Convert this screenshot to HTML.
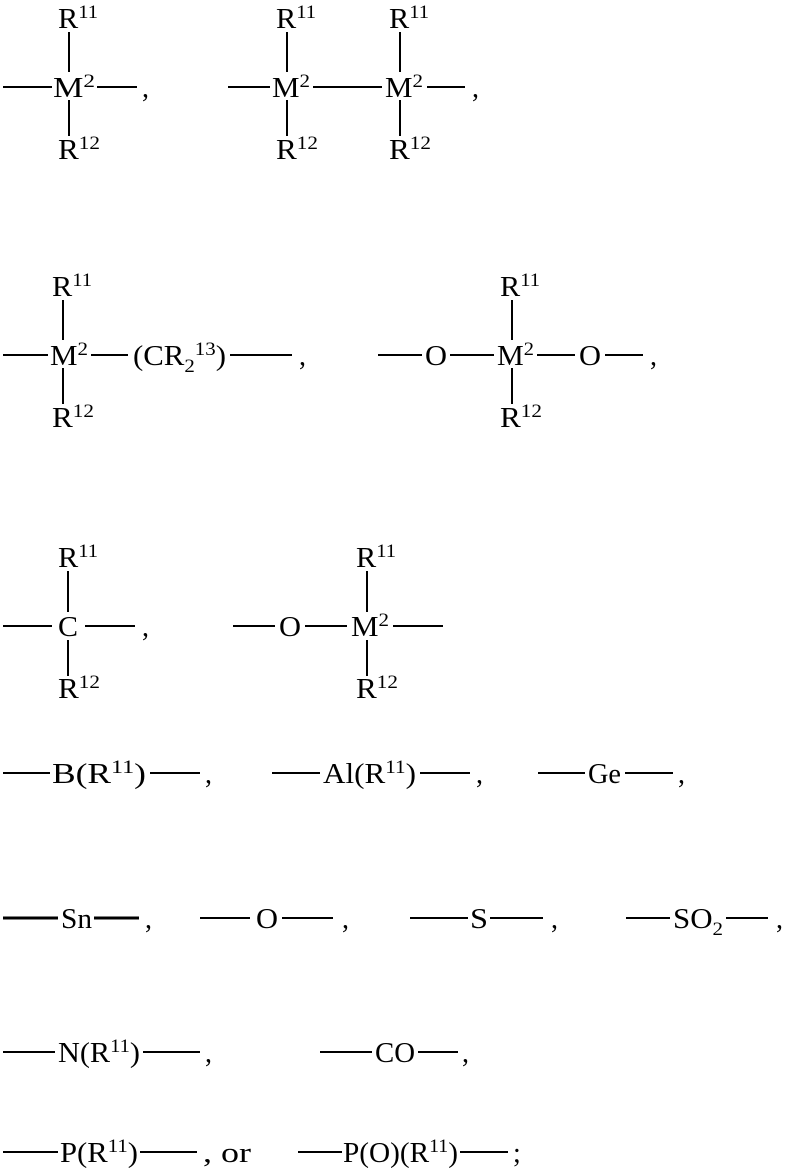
<!DOCTYPE html>
<html><head><style>body{margin:0;background:#fff}svg{display:block}text{font-family:"Liberation Serif",serif;font-size:28px;fill:#000}tspan.s{font-size:19px}</style></head><body>
<svg width="786" height="1168" viewBox="0 0 786 1168" xmlns="http://www.w3.org/2000/svg">
<g stroke="#000" stroke-width="2">
<line x1="3" y1="87" x2="52" y2="87"/><line x1="97" y1="87" x2="137" y2="87"/>
<line x1="69" y1="32" x2="69" y2="72"/><line x1="69" y1="100" x2="69" y2="136"/>
<line x1="228" y1="87" x2="270" y2="87"/><line x1="313" y1="87" x2="382" y2="87"/><line x1="427" y1="87" x2="465" y2="87"/>
<line x1="287" y1="32" x2="287" y2="72"/><line x1="287" y1="100" x2="287" y2="136"/>
<line x1="400" y1="32" x2="400" y2="72"/><line x1="400" y1="100" x2="400" y2="136"/>
<line x1="3" y1="355" x2="48" y2="355"/><line x1="91" y1="355" x2="128" y2="355"/><line x1="230" y1="355" x2="292" y2="355"/>
<line x1="63" y1="300" x2="63" y2="340"/><line x1="63" y1="368" x2="63" y2="404"/>
<line x1="378" y1="355" x2="422" y2="355"/><line x1="450" y1="355" x2="494" y2="355"/><line x1="537" y1="355" x2="575" y2="355"/><line x1="605" y1="355" x2="643" y2="355"/>
<line x1="512" y1="300" x2="512" y2="340"/><line x1="512" y1="368" x2="512" y2="404"/>
<line x1="3" y1="626" x2="52" y2="626"/><line x1="85" y1="626" x2="135" y2="626"/>
<line x1="68" y1="571" x2="68" y2="612"/><line x1="68" y1="640" x2="68" y2="676"/>
<line x1="233" y1="626" x2="275" y2="626"/><line x1="305" y1="626" x2="347" y2="626"/><line x1="393" y1="626" x2="443" y2="626"/>
<line x1="367" y1="571" x2="367" y2="612"/><line x1="367" y1="640" x2="367" y2="676"/>
<line x1="3" y1="773" x2="50" y2="773"/><line x1="150" y1="773" x2="200" y2="773"/>
<line x1="272" y1="773" x2="320" y2="773"/><line x1="420" y1="773" x2="470" y2="773"/>
<line x1="538" y1="773" x2="585" y2="773"/><line x1="625" y1="773" x2="673" y2="773"/>
<line x1="3" y1="918" x2="58" y2="918" stroke-width="3"/><line x1="94" y1="918" x2="139" y2="918" stroke-width="3"/>
<line x1="200" y1="918" x2="250" y2="918"/><line x1="282" y1="918" x2="333" y2="918"/>
<line x1="410" y1="918" x2="468" y2="918"/><line x1="490" y1="918" x2="543" y2="918"/>
<line x1="626" y1="918" x2="670" y2="918"/><line x1="726" y1="918" x2="768" y2="918"/>
<line x1="3" y1="1052" x2="55" y2="1052"/><line x1="143" y1="1052" x2="200" y2="1052"/>
<line x1="320" y1="1052" x2="372" y2="1052"/><line x1="418" y1="1052" x2="458" y2="1052"/>
<line x1="3" y1="1152" x2="58" y2="1152"/><line x1="140" y1="1152" x2="197" y2="1152"/>
<line x1="298" y1="1152" x2="342" y2="1152"/><line x1="460" y1="1152" x2="508" y2="1152"/>
</g>
<text x="58" y="28" textLength="40" lengthAdjust="spacingAndGlyphs">R<tspan class="s" dy="-10">11</tspan></text>
<text x="53" y="97" textLength="42" lengthAdjust="spacingAndGlyphs">M<tspan class="s" dy="-10">2</tspan></text>
<text x="58" y="159" textLength="42" lengthAdjust="spacingAndGlyphs">R<tspan class="s" dy="-10">12</tspan></text>
<text x="142" y="97">,</text>
<text x="276" y="28" textLength="40" lengthAdjust="spacingAndGlyphs">R<tspan class="s" dy="-10">11</tspan></text>
<text x="272" y="97" textLength="38" lengthAdjust="spacingAndGlyphs">M<tspan class="s" dy="-10">2</tspan></text>
<text x="276" y="159" textLength="42" lengthAdjust="spacingAndGlyphs">R<tspan class="s" dy="-10">12</tspan></text>
<text x="389" y="28" textLength="40" lengthAdjust="spacingAndGlyphs">R<tspan class="s" dy="-10">11</tspan></text>
<text x="385" y="97" textLength="38" lengthAdjust="spacingAndGlyphs">M<tspan class="s" dy="-10">2</tspan></text>
<text x="389" y="159" textLength="42" lengthAdjust="spacingAndGlyphs">R<tspan class="s" dy="-10">12</tspan></text>
<text x="472" y="97">,</text>
<text x="52" y="296" textLength="40" lengthAdjust="spacingAndGlyphs">R<tspan class="s" dy="-10">11</tspan></text>
<text x="50" y="365" textLength="38" lengthAdjust="spacingAndGlyphs">M<tspan class="s" dy="-10">2</tspan></text>
<text x="52" y="427" textLength="42" lengthAdjust="spacingAndGlyphs">R<tspan class="s" dy="-10">12</tspan></text>
<text x="133" y="365" textLength="93" lengthAdjust="spacingAndGlyphs">(CR<tspan class="s" dy="7">2</tspan><tspan class="s" dy="-17">13</tspan><tspan dy="10">)</tspan></text>
<text x="299" y="365">,</text>
<text x="425" y="365" textLength="22" lengthAdjust="spacingAndGlyphs">O</text>
<text x="500" y="296" textLength="40" lengthAdjust="spacingAndGlyphs">R<tspan class="s" dy="-10">11</tspan></text>
<text x="497" y="365" textLength="37" lengthAdjust="spacingAndGlyphs">M<tspan class="s" dy="-10">2</tspan></text>
<text x="500" y="427" textLength="42" lengthAdjust="spacingAndGlyphs">R<tspan class="s" dy="-10">12</tspan></text>
<text x="579" y="365" textLength="22" lengthAdjust="spacingAndGlyphs">O</text>
<text x="650" y="365">,</text>
<text x="58" y="567" textLength="40" lengthAdjust="spacingAndGlyphs">R<tspan class="s" dy="-10">11</tspan></text>
<text x="58" y="636" textLength="20" lengthAdjust="spacingAndGlyphs">C</text>
<text x="58" y="698" textLength="42" lengthAdjust="spacingAndGlyphs">R<tspan class="s" dy="-10">12</tspan></text>
<text x="142" y="636">,</text>
<text x="279" y="636" textLength="22" lengthAdjust="spacingAndGlyphs">O</text>
<text x="356" y="567" textLength="40" lengthAdjust="spacingAndGlyphs">R<tspan class="s" dy="-10">11</tspan></text>
<text x="351" y="636" textLength="38" lengthAdjust="spacingAndGlyphs">M<tspan class="s" dy="-10">2</tspan></text>
<text x="356" y="698" textLength="42" lengthAdjust="spacingAndGlyphs">R<tspan class="s" dy="-10">12</tspan></text>
<text x="52" y="783" textLength="94" lengthAdjust="spacingAndGlyphs">B(R<tspan class="s" dy="-10">11</tspan><tspan dy="10">)</tspan></text>
<text x="205" y="783">,</text>
<text x="323" y="783" textLength="93" lengthAdjust="spacingAndGlyphs">Al(R<tspan class="s" dy="-10">11</tspan><tspan dy="10">)</tspan></text>
<text x="476" y="783">,</text>
<text x="588" y="783" textLength="33" lengthAdjust="spacingAndGlyphs">Ge</text>
<text x="678" y="783">,</text>
<text x="61" y="928" textLength="31" lengthAdjust="spacingAndGlyphs">Sn</text>
<text x="145" y="928">,</text>
<text x="256" y="928" textLength="22" lengthAdjust="spacingAndGlyphs">O</text>
<text x="342" y="928">,</text>
<text x="470" y="928" textLength="18" lengthAdjust="spacingAndGlyphs">S</text>
<text x="551" y="928">,</text>
<text x="673" y="928" textLength="50" lengthAdjust="spacingAndGlyphs">SO<tspan class="s" dy="7">2</tspan></text>
<text x="776" y="928">,</text>
<text x="58" y="1062" textLength="82" lengthAdjust="spacingAndGlyphs">N(R<tspan class="s" dy="-10">11</tspan><tspan dy="10">)</tspan></text>
<text x="205" y="1062">,</text>
<text x="375" y="1062" textLength="40" lengthAdjust="spacingAndGlyphs">CO</text>
<text x="462" y="1062">,</text>
<text x="60" y="1162" textLength="78" lengthAdjust="spacingAndGlyphs">P(R<tspan class="s" dy="-10">11</tspan><tspan dy="10">)</tspan></text>
<text x="203" y="1162" textLength="48" lengthAdjust="spacingAndGlyphs">, or</text>
<text x="343" y="1162" textLength="115" lengthAdjust="spacingAndGlyphs">P(O)(R<tspan class="s" dy="-10">11</tspan><tspan dy="10">)</tspan></text>
<text x="513" y="1162">;</text>
</svg>
</body></html>
